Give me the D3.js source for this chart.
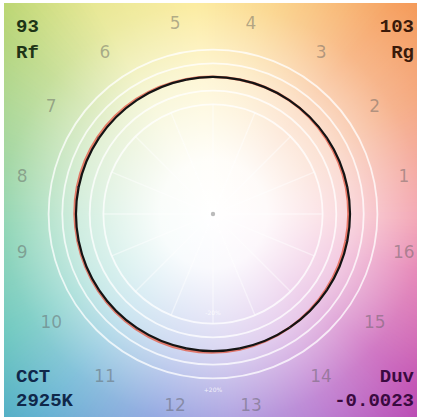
<!DOCTYPE html>
<html><head><meta charset="utf-8">
<script src="https://cdn.jsdelivr.net/npm/d3@7"></script>
<style>body{margin:0;background:#fff}svg{display:block}</style>
</head><body>
<script>
// ---- data ----
const hueBins = ["1","2","3","4","5","6","7","8","9","10","11","12","13","14","15","16"];
const referenceRadius = [1,1,1,1,1,1,1,1,1,1,1,1,1,1,1,1];
const testRadius = [0.99,0.993,1.0,1.0,1.003,1.008,1.012,1.012,1.008,1.008,1.01,1.012,1.008,1.0,0.992,0.988];
const testHueShift = [0,0,0,0,0,0,0,0,0,0,0,0,0,0.012,0,0]; // radians
const ringLevels = [0.8, 0.9, 1.1, 1.2];
const ringLabels = [{level:0.74,text:"-20%"},{level:1.3,text:"+20%"}];
const cornerTop = [{value:"93",label:"Rf"},{value:"103",label:"Rg"}];
const cornerBottom = [{label:"CCT",value:"2925K"},{label:"Duv",value:"-0.0023"}];
// background hue stops (angle degrees, ccw from +x)
const bgAngles = [0,30,50,75,95,120,140,165,185,210,230,255,275,300,320,345,360];
const bgColors = ["#ee7f92","#f2925e","#f59a55","#f9c866","#fbe47a","#e2e27a","#b0d270","#82c880","#62c498","#4ebcb0","#50a8cc","#6a86d6","#8a7ad4","#a858c4","#bc40ac","#dc5a9c","#ee7f92"];

// ---- layout ----
const W = 421, H = 420;
const cx = 213, cy = 214, R = 137;
const box = {x:4, y:3, w:413, h:414};

const svg = d3.select("body").append("svg").attr("width", W).attr("height", H);
const defs = svg.append("defs");
defs.append("clipPath").attr("id","clip").append("rect")
  .attr("x",box.x).attr("y",box.y).attr("width",box.w).attr("height",box.h);
const rg = defs.append("radialGradient").attr("id","fade")
  .attr("gradientUnits","userSpaceOnUse").attr("cx",cx).attr("cy",cy).attr("r",300);
[[0,1],[0.18,0.96],[0.45,0.7],[0.7,0.3],[1,0]].forEach(([o,a])=>
  rg.append("stop").attr("offset",o).attr("stop-color","#fff").attr("stop-opacity",a));

const g = svg.append("g").attr("clip-path","url(#clip)");
const colorScale = d3.scaleLinear().domain(bgAngles).range(bgColors).interpolate(d3.interpolateRgb);

// background wedges
const steps = d3.range(0, 360, 1);
const arc = d3.arc().innerRadius(0).outerRadius(330);
g.append("g").attr("transform",`translate(${cx},${cy})`).selectAll("path").data(steps).join("path")
  .attr("d", d => arc({startAngle:(90-d-1.6)*Math.PI/180, endAngle:(90-d+0.6)*Math.PI/180}))
  .attr("fill", d => colorScale(d+0.5));
g.append("rect").attr("x",box.x).attr("y",box.y).attr("width",box.w).attr("height",box.h).attr("fill","url(#fade)");

const plot = g.append("g").attr("transform",`translate(${cx},${cy})`);
const rScale = d3.scaleLinear().domain([0,1]).range([0,R]);
const binAngle = i => (11.25 + 22.5*i) * Math.PI/180; // math angle
const px = (a, r) => rScale(r)*Math.cos(a);
const py = (a, r) => -rScale(r)*Math.sin(a);

// spokes
plot.selectAll("line.spoke").data(d3.range(16)).join("line")
  .attr("x1",0).attr("y1",0)
  .attr("x2", i => px(i*22.5*Math.PI/180, 0.8))
  .attr("y2", i => py(i*22.5*Math.PI/180, 0.8))
  .attr("stroke","#fff").attr("stroke-opacity",0.45).attr("stroke-width",1.4);

// rings
plot.selectAll("circle.ring").data(ringLevels).join("circle")
  .attr("r", d => rScale(d)).attr("fill","none")
  .attr("stroke","#fff").attr("stroke-opacity",0.75).attr("stroke-width",1.8);

plot.selectAll("text.ringlab").data(ringLabels).join("text")
  .attr("x",0).attr("y", d => rScale(d.level)).attr("text-anchor","middle")
  .attr("font-family","DejaVu Sans").attr("font-size",6).attr("fill","#fff").attr("fill-opacity",0.8)
  .text(d => d.text);

plot.append("circle").attr("r",2.2).attr("fill","#bbb");

// curves
const radial = d3.lineRadial().curve(d3.curveCatmullRomClosed);
const testPts = testRadius.map((r,i)=>[Math.PI/2 - binAngle(i) - testHueShift[i], rScale(r)]);
const refPts = referenceRadius.map((r,i)=>[Math.PI/2 - binAngle(i), rScale(r)]);
plot.append("path").attr("d", radial(testPts)).attr("fill","none")
  .attr("stroke","#e4604c").attr("stroke-width",2.6).attr("stroke-opacity",0.8);
plot.append("path").attr("d", radial(refPts)).attr("fill","none")
  .attr("stroke","#141414").attr("stroke-width",2.2);

// arrows
plot.selectAll("line.arrow").data(d3.range(16)).join("line")
  .attr("x1", i => px(binAngle(i), referenceRadius[i]))
  .attr("y1", i => py(binAngle(i), referenceRadius[i]))
  .attr("x2", i => px(binAngle(i)+testHueShift[i], testRadius[i]))
  .attr("y2", i => py(binAngle(i)+testHueShift[i], testRadius[i]))
  .attr("stroke","#334").attr("stroke-width",1.2);

// hue bin labels
plot.selectAll("text.bin").data(hueBins).join("text")
  .attr("x", (d,i) => px(binAngle(i), 1.42))
  .attr("y", (d,i) => py(binAngle(i), 1.42))
  .attr("text-anchor","middle").attr("dominant-baseline","central")
  .attr("font-family","DejaVu Sans").attr("font-size",17)
  .attr("fill","#5a5a5a").attr("fill-opacity",0.45)
  .text(d => d);

// corner labels
const cf = {family:"Liberation Mono", size:19};
const corner = (x, y, anchor, txt, col) => svg.append("text").attr("x",x).attr("y",y)
  .attr("text-anchor",anchor).attr("font-family",cf.family).attr("font-weight","bold")
  .attr("font-size",cf.size).attr("fill",col).text(txt);
corner(16, 32, "start", cornerTop[0].value, "#1e3416");
corner(16, 58, "start", cornerTop[0].label, "#1e3416");
corner(414, 32, "end", cornerTop[1].value, "#3a1a0a");
corner(414, 58, "end", cornerTop[1].label, "#3a1a0a");
corner(16, 382, "start", cornerBottom[0].label, "#10284a");
corner(16, 406, "start", cornerBottom[0].value, "#10284a");
corner(414, 382, "end", cornerBottom[1].label, "#3a0a40");
corner(414, 406, "end", cornerBottom[1].value, "#3a0a40");
</script>
</body></html>
